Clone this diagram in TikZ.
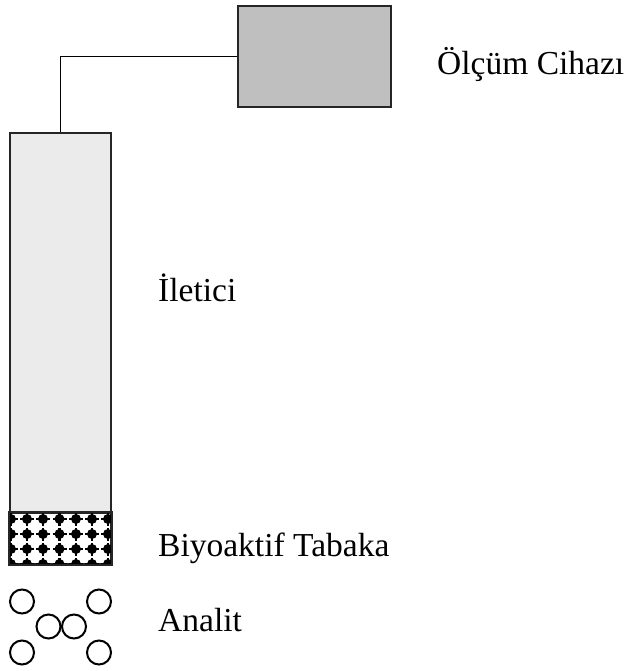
\documentclass[tikz,border=0pt]{standalone}
\usepackage{fontspec}
\setmainfont{Liberation Serif}
\begin{document}
\begin{tikzpicture}[x=1pt,y=-1pt,
  outline/.style={draw=black!85, line width=2pt},
  device/.style={outline, fill=black!25, minimum width=153pt, minimum height=101pt, inner sep=0pt},
  conductor/.style={outline, fill=black!8, minimum width=101pt, minimum height=380pt, inner sep=0pt},
  biolayer/.style={outline, fill=white, minimum width=101pt, minimum height=51pt, inner sep=0pt},
  analyte/.style={circle, draw=black, line width=2pt, minimum size=24pt, inner sep=0pt},
  wire/.style={draw=black, line width=1.5pt},
  caption/.style={anchor=base west, inner sep=0pt, font=\fontsize{33.5}{40}\selectfont}]
\useasboundingbox (0,0) rectangle (627,671);

% measuring device and conductor
\node[device] (dev) at (314.5,56.5) {};
\node[conductor] (cond) at (60.5,323) {};
\draw[wire] (dev.west) -| (cond.north);

% bioactive layer with its dotted cross pattern
\node[biolayer] (layer) at (60.5,538.5) {};
\begin{scope}
  \clip (layer.south west) rectangle (layer.north east);
  \foreach \cx in {11,27,43,59.5,76,92,108} {
    \foreach \cy in {519,534,549,564} {
      \fill[black] (\cx,\cy) circle (5pt);
      \fill[black] (\cx-7,\cy-1.2) rectangle (\cx+7,\cy+1.2);
      \fill[black] (\cx-1.2,\cy-6.5) rectangle (\cx+1.2,\cy+6.5);
    }
  }
\end{scope}
\draw[outline] (layer.south west) rectangle (layer.north east);

% analyte particles
\node[analyte] (a1) at (22,601.5) {};
\node[analyte] (a2) at (99,601.5) {};
\node[analyte] (a3) at (48.5,626.5) {};
\node[analyte] (a4) at (74,626.5) {};
\node[analyte] (a5) at (22,652.5) {};
\node[analyte] (a6) at (99,652.5) {};

% captions
\node[caption] (tdev) at (437,75) {Ölçüm Cihazı};
\node[caption] (tcond) at (158,301) {İletici};
\node[caption] (tlayer) at (158,556) {Biyoaktif Tabaka};
\node[caption] (tana) at (158,631) {Analit};
\end{tikzpicture}
\end{document}
